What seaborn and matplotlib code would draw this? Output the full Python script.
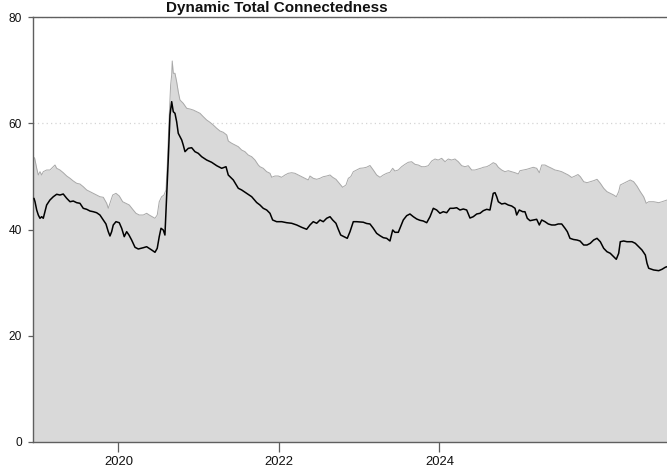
import matplotlib
matplotlib.use("Agg")
import matplotlib.pyplot as plt
import numpy as np
import pandas as pd
import seaborn as sns

# Upper band of connectedness (decimal year, value)
band_year = [
    2018.938, 2018.956, 2018.981, 2019.001, 2019.022, 2019.043, 2019.063, 2019.105, 2019.146, 2019.188,
    2019.209, 2019.230, 2019.271, 2019.312, 2019.355, 2019.396, 2019.437, 2019.479, 2019.520, 2019.561,
    2019.604, 2019.645, 2019.686, 2019.728, 2019.769, 2019.811, 2019.853, 2019.873, 2019.894, 2019.928,
    2019.969, 2020.010, 2020.052, 2020.093, 2020.135, 2020.177, 2020.218, 2020.259, 2020.309, 2020.351,
    2020.393, 2020.455, 2020.483, 2020.508, 2020.538, 2020.567, 2020.592, 2020.608, 2020.629, 2020.650,
    2020.663, 2020.670, 2020.683, 2020.704, 2020.725, 2020.745, 2020.766, 2020.807, 2020.850, 2020.891,
    2020.932, 2020.974, 2021.016, 2021.057, 2021.099, 2021.140, 2021.181, 2021.224, 2021.265, 2021.306,
    2021.349, 2021.368, 2021.411, 2021.452, 2021.493, 2021.535, 2021.576, 2021.617, 2021.660, 2021.701,
    2021.742, 2021.763, 2021.804, 2021.847, 2021.888, 2021.909, 2021.950, 2021.991, 2022.034, 2022.075,
    2022.116, 2022.158, 2022.199, 2022.240, 2022.283, 2022.324, 2022.365, 2022.386, 2022.427, 2022.470,
    2022.511, 2022.552, 2022.594, 2022.636, 2022.669, 2022.710, 2022.751, 2022.793, 2022.835, 2022.864,
    2022.894, 2022.926, 2022.968, 2023.009, 2023.050, 2023.093, 2023.134, 2023.175, 2023.217, 2023.259,
    2023.300, 2023.342, 2023.383, 2023.417, 2023.445, 2023.487, 2023.528, 2023.570, 2023.611, 2023.653,
    2023.695, 2023.736, 2023.778, 2023.819, 2023.860, 2023.903, 2023.944, 2023.985, 2024.027, 2024.069,
    2024.110, 2024.152, 2024.193, 2024.234, 2024.277, 2024.318, 2024.359, 2024.401, 2024.442, 2024.483,
    2024.525, 2024.546, 2024.588, 2024.629, 2024.670, 2024.704, 2024.733, 2024.775, 2024.816, 2024.857,
    2024.900, 2024.941, 2024.982, 2025.003, 2025.044, 2025.087, 2025.128, 2025.169, 2025.211, 2025.244,
    2025.274, 2025.315, 2025.356, 2025.398, 2025.439, 2025.480, 2025.523, 2025.564, 2025.605, 2025.648,
    2025.689, 2025.726, 2025.755, 2025.797, 2025.838, 2025.879, 2025.921, 2025.963, 2026.004, 2026.046,
    2026.087, 2026.128, 2026.171, 2026.203, 2026.233, 2026.253, 2026.295, 2026.336, 2026.377, 2026.419,
    2026.460, 2026.502, 2026.544, 2026.576, 2026.607, 2026.669, 2026.732, 2026.773, 2026.835,
]
band_value = [
    53.70, 53.40, 51.52, 50.26, 50.88, 50.26, 50.88, 51.20, 51.20, 51.82,
    52.14, 51.52, 51.20, 50.69, 50.07, 49.64, 49.13, 48.70, 48.56, 48.06,
    47.44, 47.12, 46.81, 46.49, 46.17, 46.06, 44.93, 43.99, 44.93, 46.49,
    46.81, 46.31, 45.23, 44.93, 44.61, 43.80, 43.05, 42.73, 42.73, 43.05,
    42.64, 42.11, 42.73, 45.23, 46.17, 46.49, 47.44, 52.14, 60.29, 67.20,
    69.08, 71.72, 69.40, 69.40, 67.82, 65.94, 64.38, 63.76, 62.82, 62.68,
    62.49, 62.17, 61.87, 61.23, 60.61, 60.18, 59.67, 59.05, 58.54, 58.30,
    57.79, 56.66, 56.23, 55.91, 55.59, 54.96, 54.65, 54.02, 53.70, 53.08,
    52.14, 51.82, 51.52, 50.88, 50.58, 49.83, 50.07, 50.07, 49.83, 50.26,
    50.58, 50.69, 50.58, 50.26, 49.94, 49.64, 49.32, 50.07, 49.64, 49.45,
    49.64, 49.94, 50.07, 50.26, 49.83, 49.45, 48.70, 47.94, 48.38, 49.64,
    49.94, 50.88, 51.20, 51.52, 51.58, 51.73, 52.05, 51.20, 50.26, 49.83,
    50.26, 50.58, 50.77, 51.52, 51.01, 51.20, 51.82, 52.27, 52.65, 52.76,
    52.27, 52.14, 51.82, 51.82, 52.01, 52.89, 53.27, 53.08, 53.40, 52.76,
    53.27, 53.08, 53.27, 52.76, 52.01, 51.82, 52.01, 51.20, 51.20, 51.39,
    51.58, 51.71, 51.82, 52.14, 52.58, 52.33, 51.71, 51.20, 50.88, 51.07,
    50.88, 50.69, 50.45, 51.07, 51.20, 51.33, 51.52, 51.71, 51.52, 50.69,
    52.14, 52.14, 51.82, 51.52, 51.20, 51.07, 50.88, 50.58, 50.26, 49.79,
    50.07, 50.35, 49.94, 49.00, 48.81, 49.00, 49.19, 49.45, 48.70, 47.76,
    47.12, 46.81, 46.49, 46.17, 47.12, 48.38, 48.70, 49.00, 49.32, 49.00,
    48.19, 47.12, 46.17, 44.93, 45.23, 45.23, 45.05, 45.23, 45.55,
]

# Total connectedness index (decimal year, value)
tci_year = [
    2018.947, 2018.960, 2018.981, 2019.001, 2019.022, 2019.043, 2019.063, 2019.084, 2019.105, 2019.146,
    2019.188, 2019.230, 2019.271, 2019.312, 2019.355, 2019.396, 2019.437, 2019.479, 2019.520, 2019.561,
    2019.604, 2019.645, 2019.686, 2019.728, 2019.769, 2019.811, 2019.844, 2019.873, 2019.894, 2019.915,
    2019.935, 2019.969, 2020.010, 2020.040, 2020.072, 2020.102, 2020.131, 2020.164, 2020.206, 2020.247,
    2020.309, 2020.351, 2020.414, 2020.455, 2020.483, 2020.508, 2020.530, 2020.558, 2020.579, 2020.601,
    2020.621, 2020.642, 2020.663, 2020.683, 2020.704, 2020.725, 2020.745, 2020.788, 2020.807, 2020.829,
    2020.870, 2020.912, 2020.953, 2020.994, 2021.037, 2021.099, 2021.161, 2021.224, 2021.286, 2021.340,
    2021.368, 2021.431, 2021.493, 2021.535, 2021.598, 2021.660, 2021.722, 2021.763, 2021.804, 2021.847,
    2021.888, 2021.921, 2021.971, 2022.034, 2022.096, 2022.158, 2022.221, 2022.283, 2022.345, 2022.386,
    2022.427, 2022.470, 2022.511, 2022.552, 2022.594, 2022.636, 2022.669, 2022.710, 2022.739, 2022.769,
    2022.810, 2022.851, 2022.885, 2022.926, 2022.968, 2023.009, 2023.050, 2023.093, 2023.134, 2023.175,
    2023.217, 2023.259, 2023.300, 2023.342, 2023.383, 2023.417, 2023.445, 2023.487, 2023.516, 2023.549,
    2023.591, 2023.632, 2023.674, 2023.716, 2023.757, 2023.798, 2023.841, 2023.882, 2023.923, 2023.965,
    2024.006, 2024.047, 2024.090, 2024.131, 2024.172, 2024.214, 2024.255, 2024.297, 2024.339, 2024.380,
    2024.421, 2024.464, 2024.505, 2024.546, 2024.588, 2024.629, 2024.650, 2024.670, 2024.692, 2024.713,
    2024.733, 2024.775, 2024.816, 2024.857, 2024.900, 2024.941, 2024.962, 2024.994, 2025.037, 2025.065,
    2025.094, 2025.128, 2025.169, 2025.211, 2025.244, 2025.274, 2025.315, 2025.356, 2025.398, 2025.439,
    2025.480, 2025.523, 2025.564, 2025.593, 2025.626, 2025.670, 2025.713, 2025.751, 2025.797, 2025.838,
    2025.879, 2025.921, 2025.963, 2026.004, 2026.046, 2026.087, 2026.128, 2026.171, 2026.203, 2026.233,
    2026.253, 2026.295, 2026.336, 2026.399, 2026.440, 2026.482, 2026.523, 2026.565, 2026.586, 2026.607,
    2026.669, 2026.732, 2026.773, 2026.814, 2026.835,
]
tci_value = [
    45.87, 45.23, 43.67, 42.73, 42.11, 42.41, 42.11, 43.35, 44.61, 45.55,
    46.17, 46.63, 46.49, 46.68, 45.87, 45.23, 45.36, 45.05, 44.93, 43.99,
    43.80, 43.48, 43.35, 43.16, 42.73, 41.79, 41.04, 39.59, 38.78, 39.59,
    40.85, 41.47, 41.28, 40.23, 38.65, 39.59, 38.96, 38.02, 36.65, 36.33,
    36.57, 36.76, 36.14, 35.71, 36.46, 38.65, 40.23, 39.91, 38.96, 46.49,
    53.40, 61.55, 64.06, 62.17, 61.87, 60.29, 58.11, 56.85, 55.91, 54.65,
    55.28, 55.40, 54.65, 54.34, 53.70, 53.08, 52.65, 52.01, 51.52, 51.82,
    50.26, 49.32, 47.76, 47.44, 46.81, 46.17, 45.08, 44.61, 43.99, 43.67,
    43.05, 41.79, 41.47, 41.47, 41.28, 41.17, 40.85, 40.41, 40.04, 40.85,
    41.47, 41.17, 41.79, 41.47, 42.11, 42.41, 41.79, 41.17, 40.04, 38.96,
    38.65, 38.34, 39.59, 41.47, 41.47, 41.41, 41.37, 41.13, 41.04, 40.23,
    39.28, 38.83, 38.46, 38.34, 37.84, 39.91, 39.47, 39.47, 40.53, 41.79,
    42.60, 42.92, 42.41, 41.98, 41.73, 41.60, 41.28, 42.41, 43.99, 43.67,
    43.05, 43.35, 43.16, 43.99, 43.99, 44.10, 43.67, 43.86, 43.67, 42.16,
    42.41, 42.92, 43.05, 43.54, 43.80, 43.67, 45.23, 46.81, 46.93, 46.17,
    45.23, 44.80, 44.93, 44.61, 44.42, 43.99, 42.73, 43.67, 43.35, 43.35,
    42.11, 41.66, 41.79, 41.92, 40.85, 41.79, 41.47, 41.04, 40.85, 40.85,
    41.04, 41.04, 40.23, 39.59, 38.34, 38.12, 38.02, 37.84, 37.08, 37.08,
    37.40, 38.02, 38.34, 37.70, 36.46, 35.82, 35.52, 34.88, 34.39, 35.52,
    37.70, 37.84, 37.70, 37.70, 37.40, 36.76, 36.14, 35.20, 33.64, 32.70,
    32.38, 32.25, 32.51, 32.89, 33.00,
]

y_ticks = [0, 20, 40, 60, 80]
x_ticks = [2020, 2022, 2024]
x_tick_labels = ["2020", "2022", "2024"]
title = "Dynamic Total Connectedness"

band = pd.DataFrame({"year": band_year, "value": band_value})
tci = pd.DataFrame({"year": tci_year, "value": tci_value})

sns.set_theme(style="white")
plt.rcParams["font.family"] = ["Liberation Sans", "DejaVu Sans"]

fig = plt.figure(figsize=(6.67, 4.68), dpi=100)
ax = fig.add_axes([33 / 667, 26 / 468, 634 / 667, 425 / 468])

# dotted reference lines underneath everything
for yv in y_ticks:
    ax.axhline(yv, color="#d4d4d4", lw=0.9, ls=(0, (1, 2.5)), zorder=0)

ax.fill_between(band["year"], 0, band["value"], color="#d9d9d9", lw=0, zorder=1)
sns.lineplot(data=band, x="year", y="value", ax=ax, color="#a8a8a8", lw=0.7,
             estimator=None, sort=False, zorder=2)
sns.lineplot(data=tci, x="year", y="value", ax=ax, color="black", lw=1.1,
             estimator=None, sort=False, zorder=3)

ax.set_xlim(2018.935, 2026.835)
ax.set_ylim(0, 80)
ax.set_xticks(x_ticks)
ax.set_xticklabels(x_tick_labels)
ax.set_yticks(y_ticks)
ax.set_xlabel("")
ax.set_ylabel("")

for side in ["left", "bottom", "top"]:
    ax.spines[side].set_visible(True)
    ax.spines[side].set_color("#5f5f5f")
    ax.spines[side].set_linewidth(1.0)
ax.spines["right"].set_visible(False)

ax.tick_params(axis="y", which="major", left=True, length=3.6, width=0.9,
               color="#5f5f5f", pad=4.3, labelsize=8.6, labelcolor="#111111")
ax.tick_params(axis="x", which="major", bottom=True, length=7.2, width=0.9,
               color="#5f5f5f", pad=3.0, labelsize=9.4, labelcolor="#111111")

fig.text(277 / 667, 1 - 12 / 468, title, ha="center", va="baseline",
         fontsize=11, fontweight="bold", color="#111111")

fig.savefig("out.png", dpi=100)
